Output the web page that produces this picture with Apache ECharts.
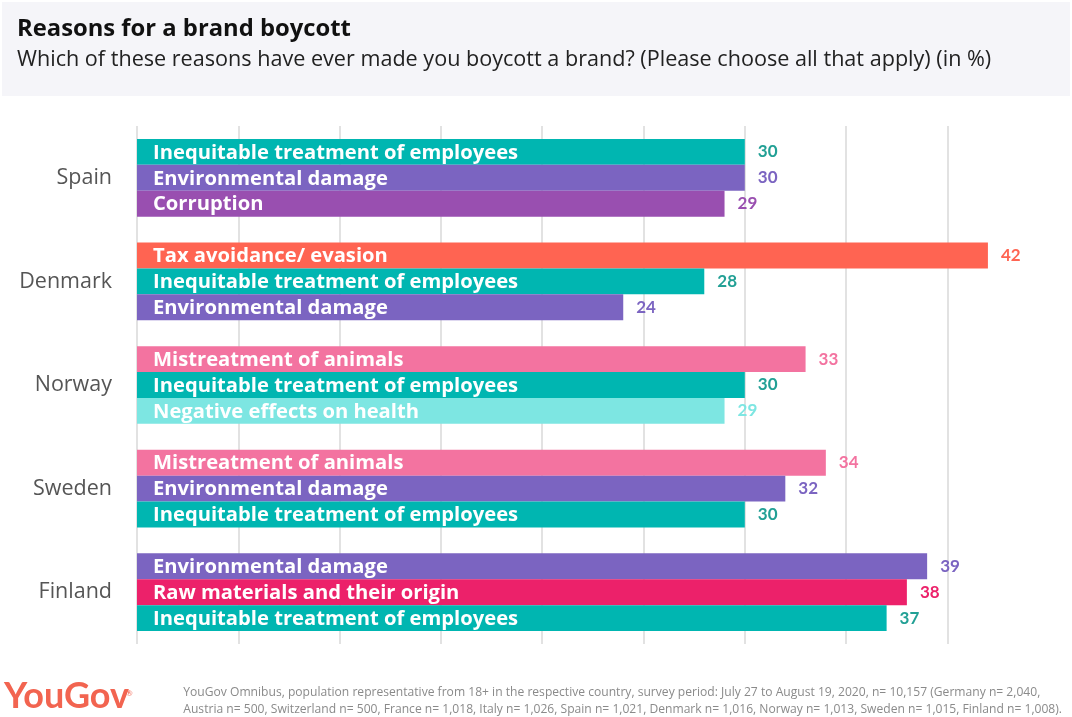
<!DOCTYPE html>
<html>
<head>
<meta charset="utf-8">
<script src="https://cdn.jsdelivr.net/npm/echarts@6/dist/echarts.min.js"></script>
<style>
  html, body {margin: 0; padding: 0; background: #fff;}
  #main {width: 1072px; height: 717px;}
</style>
</head>
<body>
<div id="main"></div>
<script>
// data
var countries = ['Spain', 'Denmark', 'Norway', 'Sweden', 'Finland'];
var reasonsTop = ['Inequitable treatment of employees', 'Tax avoidance/ evasion', 'Mistreatment of animals', 'Mistreatment of animals', 'Environmental damage'];
var valuesTop = [30, 42, 33, 34, 39];
var reasonsMid = ['Environmental damage', 'Inequitable treatment of employees', 'Inequitable treatment of employees', 'Environmental damage', 'Raw materials and their origin'];
var valuesMid = [30, 28, 30, 32, 38];
var reasonsLow = ['Corruption', 'Environmental damage', 'Negative effects on health', 'Inequitable treatment of employees', 'Inequitable treatment of employees'];
var valuesLow = [29, 24, 29, 30, 37];

// colours per reason
var barColor = {
  'Inequitable treatment of employees': '#00B6B1',
  'Environmental damage': '#7B64C1',
  'Corruption': '#994FB0',
  'Tax avoidance/ evasion': '#FF6452',
  'Mistreatment of animals': '#F373A0',
  'Negative effects on health': '#7DE6E2',
  'Raw materials and their origin': '#EC216A'
};
var valueColor = {
  'Inequitable treatment of employees': '#22A095'
};

var FONT = 'Open Sans';
var NUMFONT = 'Lato';

var myChart = echarts.init(document.getElementById('main'));

function barSeries(reasons, values) {
  return {
    type: 'bar',
    yAxisIndex: 0,
    barGap: 0,
    barCategoryGap: '25%',
    clip: false,
    silent: true,
    data: values.map(function (v, i) {
      return {
        value: v,
        itemStyle: {color: barColor[reasons[i]]},
        label: {formatter: reasons[i]}
      };
    }),
    label: {
      show: true,
      position: 'insideLeft',
      distance: 16,
      offset: [0, 1],
      color: '#fff',
      fontFamily: FONT,
      fontWeight: 'bold',
      fontSize: 20.2
    }
  };
}

function valueSeries(reasons, values) {
  return {
    type: 'bar',
    yAxisIndex: 1,
    barGap: 0,
    barCategoryGap: '25%',
    clip: false,
    silent: true,
    itemStyle: {color: 'rgba(0,0,0,0)'},
    data: values.map(function (v, i) {
      return {
        value: v,
        label: {color: valueColor[reasons[i]] || barColor[reasons[i]]}
      };
    }),
    label: {
      show: true,
      position: 'right',
      distance: 13,
      fontFamily: NUMFONT,
      fontWeight: 'bold',
      fontSize: 17
    }
  };
}

var catAxis = {
  type: 'category',
  inverse: true,
  data: countries,
  axisLine: {show: false},
  axisTick: {show: false}
};

myChart.setOption({
  animation: false,
  title: {
    text: 'Reasons for a brand boycott',
    subtext: 'Which of these reasons have ever made you boycott a brand? (Please choose all that apply) (in %)',
    left: 17,
    top: 17,
    padding: 0,
    itemGap: 8,
    textStyle: {fontFamily: FONT, fontSize: 23.8, fontWeight: 'bold', color: '#111'},
    subtextStyle: {fontFamily: FONT, fontSize: 21.6, color: '#222'}
  },
  graphic: [
    {
      type: 'rect', z: -10, silent: true,
      shape: {x: 2, y: 2, width: 1068, height: 94},
      style: {fill: '#F5F5F9'}
    },
    {
      type: 'text', left: 4, top: 678, silent: true,
      style: {text: 'YouGov', fontFamily: NUMFONT, fontSize: 36, fontWeight: 'bold', fill: '#F26450'}
    },
    {
      type: 'text', left: 126, top: 689, silent: true,
      style: {text: '®', fontFamily: NUMFONT, fontSize: 8, fill: '#F26450'}
    },
    {
      type: 'text', right: 10, top: 684, silent: true,
      style: {
        text: 'YouGov Omnibus, population representative from 18+ in the respective country, survey period: July 27 to August 19, 2020, n= 10,157 (Germany n= 2,040,\nAustria n= 500, Switzerland n= 500, France n= 1,018, Italy n= 1,026, Spain n= 1,021, Denmark n= 1,016, Norway n= 1,013, Sweden n= 1,015, Finland n= 1,008).',
        fontFamily: FONT, fontSize: 12.1, lineHeight: 17, fill: '#8a8a8a', align: 'right'
      }
    }
  ],
  grid: {left: 137, right: 124.6, top: 126, bottom: 73},
  xAxis: {
    type: 'value',
    min: 0,
    max: 40,
    interval: 5,
    axisLabel: {show: false},
    axisLine: {show: false},
    axisTick: {show: false},
    splitLine: {lineStyle: {color: '#D9D9D9', width: 1.5}}
  },
  yAxis: [
    Object.assign({}, catAxis, {
      axisLabel: {fontFamily: FONT, fontSize: 21.5, color: '#555', margin: 25}
    }),
    Object.assign({}, catAxis, {show: false})
  ],
  series: [
    barSeries(reasonsTop, valuesTop),
    barSeries(reasonsMid, valuesMid),
    barSeries(reasonsLow, valuesLow),
    valueSeries(reasonsTop, valuesTop),
    valueSeries(reasonsMid, valuesMid),
    valueSeries(reasonsLow, valuesLow)
  ]
});
</script>
</body>
</html>
